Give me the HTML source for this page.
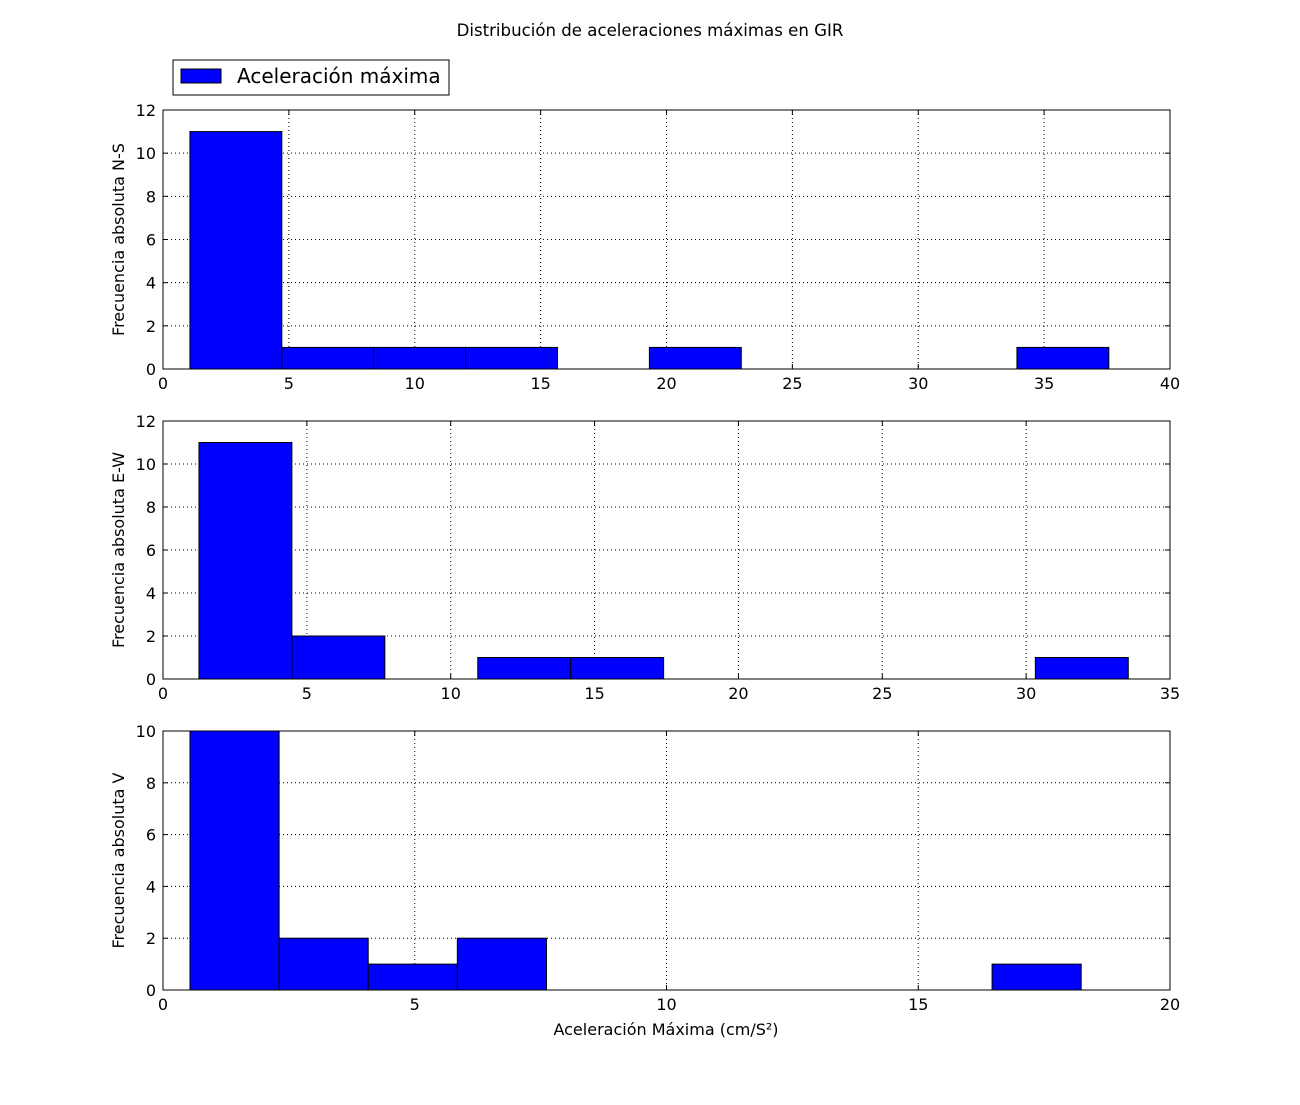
<!DOCTYPE html>
<html><head><meta charset="utf-8"><style>
body{margin:0;background:#fff;width:1300px;height:1100px;overflow:hidden}
svg{font-family:"DejaVu Sans","Liberation Sans",sans-serif}
</style></head><body>
<svg id="chart" width="1300" height="1100" xmlns="http://www.w3.org/2000/svg">
<text x="650" y="36" text-anchor="middle" font-size="16.6">Distribución de aceleraciones máximas en GIR</text>
<g>
<rect x="173" y="60" width="276" height="35" fill="#fff" stroke="#000"/>
<rect x="181" y="69" width="40" height="14" fill="#0000ff" stroke="#000"/>
<text x="237" y="83" font-size="20">Aceleración máxima</text>
</g>
<text x="666" y="1035" text-anchor="middle" font-size="16">Aceleración Máxima (cm/S²)</text>
</svg>
<script>
// Panel 1 (N-S)
const ns_start = 1.07, ns_width = 3.65;
const ns_counts = [11,1,1,1,0,1,0,0,0,1];
const ns_xticks = [0,5,10,15,20,25,30,35,40];
const ns_yticks = [0,2,4,6,8,10,12];
// Panel 2 (E-W)
const ew_start = 1.25, ew_width = 3.23;
const ew_counts = [11,2,0,1,1,0,0,0,0,1];
const ew_xticks = [0,5,10,15,20,25,30,35];
const ew_yticks = [0,2,4,6,8,10,12];
// Panel 3 (V)
const v_start = 0.536, v_width = 1.77;
const v_counts = [10,2,1,2,0,0,0,0,0,1];
const v_xticks = [0,5,10,15,20];
const v_yticks = [0,2,4,6,8,10];

const NS = "http://www.w3.org/2000/svg";
const svg = document.getElementById('chart');
function mk(tag, attrs, parent){const e=document.createElementNS(NS,tag);for(const k in attrs)e.setAttribute(k,attrs[k]);(parent||svg).appendChild(e);return e;}

function panel(name, top, bottom, start, width, counts, xticks, yticks, ylabel){
  const L=163,R=1170;
  const xmax=xticks[xticks.length-1], ymax=yticks[yticks.length-1];
  const sx=v=>L+(v/xmax)*(R-L), sy=v=>bottom-(v/ymax)*(bottom-top);
  const g=mk('g',{});
  
  
  xticks.forEach(t=>{
    const x=sx(t);
    if(t>0&&t<xmax){const l=mk('line',{x1:x,x2:x,y1:top,y2:bottom,stroke:'#000','stroke-dasharray':'1,3','stroke-width':1},g);
      
      }
    mk('line',{x1:x,x2:x,y1:bottom,y2:bottom-5,stroke:'#000'},g);
    mk('line',{x1:x,x2:x,y1:top,y2:top+5,stroke:'#000'},g);
    const tx=mk('text',{x:x,y:bottom+20,'text-anchor':'middle','font-size':16},g);
    tx.textContent=t;
    
    
  });
  yticks.forEach(t=>{
    const y=sy(t);
    if(t>0&&t<ymax){const l=mk('line',{x1:L,x2:R,y1:y,y2:y,stroke:'#000','stroke-dasharray':'1,3','stroke-width':1},g);
      
      }
    mk('line',{x1:L,x2:L+5,y1:y,y2:y,stroke:'#000'},g);
    mk('line',{x1:R,x2:R-5,y1:y,y2:y,stroke:'#000'},g);
    const tx=mk('text',{x:L-7,y:y+6,'text-anchor':'end','font-size':16},g);
    tx.textContent=t;
    
    
  });
  counts.forEach((c,i)=>{
    if(c<=0)return;
    const x0=sx(start+i*width), x1=sx(start+(i+1)*width);
    const r=mk('rect',{x:x0,y:sy(c),width:x1-x0,height:bottom-sy(c),fill:'#0000ff',stroke:'#000','stroke-width':1},g);
    
    
  });
  const f=mk('rect',{x:L,y:top,width:R-L,height:bottom-top,fill:'none',stroke:'#000','stroke-width':1},g);
  
  
  const cy=(top+bottom)/2;
  const yl=mk('text',{x:124,y:cy,'text-anchor':'middle','font-size':16,transform:`rotate(-90 124 ${cy})`},g);
  yl.textContent=ylabel;
  
  
}
panel('ns',110,369,ns_start,ns_width,ns_counts,ns_xticks,ns_yticks,'Frecuencia absoluta N-S');
panel('ew',421,679,ew_start,ew_width,ew_counts,ew_xticks,ew_yticks,'Frecuencia absoluta E-W');
panel('v',731,990,v_start,v_width,v_counts,v_xticks,v_yticks,'Frecuencia absoluta V');
</script>
</body></html>
